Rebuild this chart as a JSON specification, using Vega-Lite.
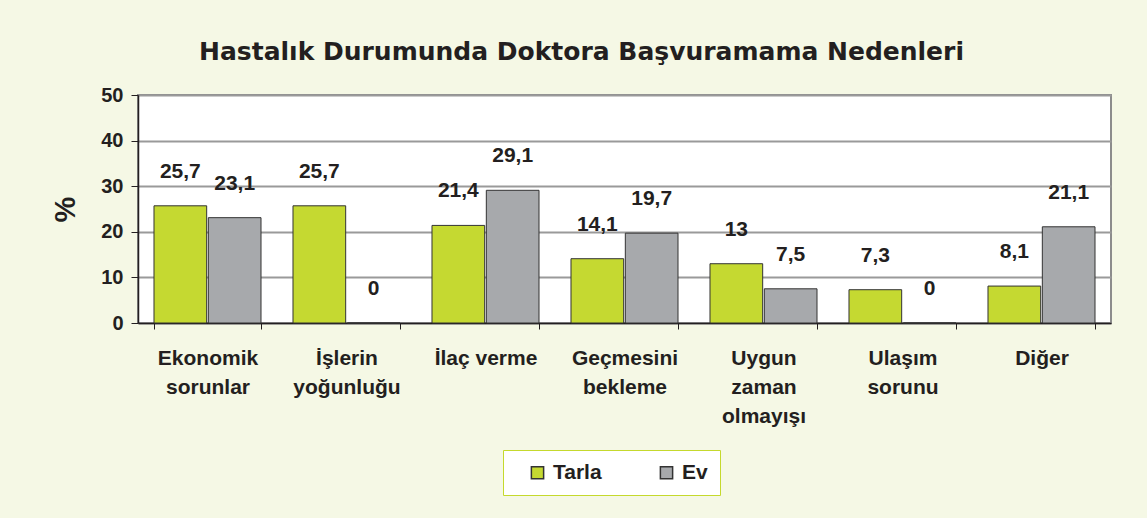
{
  "$schema": "https://vega.github.io/schema/vega-lite/v6.json",
  "width": 973,
  "height": 228,
  "autosize": {"type": "none"},
  "padding": {"left": 138, "top": 95, "right": 36, "bottom": 195},
  "background": "#f5f8e5",
  "config": {
    "locale": {"number": {"decimal": ",", "thousands": ".", "grouping": [3], "currency": ["", " TL"]}},
    "view": {"fill": "white", "stroke": "#8c8c8c", "strokeWidth": 2},
    "font": "Liberation Sans"
  },
  "title": {
    "text": "Hastalık Durumunda Doktora Başvuramama Nedenleri",
    "font": "DejaVu Sans",
    "fontSize": 25,
    "fontWeight": "bold",
    "color": "#231f20",
    "anchor": "middle",
    "dx": -43,
    "offset": 20
  },
  "data": {
    "values": [
      {"neden": "Ekonomik|sorunlar", "grup": "Tarla", "yuzde": 25.7},
      {"neden": "Ekonomik|sorunlar", "grup": "Ev", "yuzde": 23.1},
      {"neden": "İşlerin|yoğunluğu", "grup": "Tarla", "yuzde": 25.7},
      {"neden": "İşlerin|yoğunluğu", "grup": "Ev", "yuzde": 0},
      {"neden": "İlaç verme", "grup": "Tarla", "yuzde": 21.4},
      {"neden": "İlaç verme", "grup": "Ev", "yuzde": 29.1},
      {"neden": "Geçmesini|bekleme", "grup": "Tarla", "yuzde": 14.1},
      {"neden": "Geçmesini|bekleme", "grup": "Ev", "yuzde": 19.7},
      {"neden": "Uygun|zaman|olmayışı", "grup": "Tarla", "yuzde": 13},
      {"neden": "Uygun|zaman|olmayışı", "grup": "Ev", "yuzde": 7.5},
      {"neden": "Ulaşım|sorunu", "grup": "Tarla", "yuzde": 7.3},
      {"neden": "Ulaşım|sorunu", "grup": "Ev", "yuzde": 0},
      {"neden": "Diğer", "grup": "Tarla", "yuzde": 8.1},
      {"neden": "Diğer", "grup": "Ev", "yuzde": 21.1}
    ]
  },
  "encoding": {
    "x": {
      "field": "neden",
      "type": "nominal",
      "sort": null,
      "scale": {"paddingInner": 0.23, "paddingOuter": 0.115},
      "axis": {
        "title": null,
        "labelAngle": 0,
        "labelExpr": "split(datum.label, '|')",
        "labelFont": "Liberation Sans",
        "labelFontSize": 21,
        "labelFontWeight": "bold",
        "labelColor": "#231f20",
        "labelPadding": 18,
        "labelLineHeight": 29,
        "labelBaseline": "top",
        "labelLimit": 0,
        "tickBand": "extent",
        "tickColor": "#231f20",
        "tickSize": 6,
        "domainColor": "#231f20",
        "domainWidth": 1.5,
        "grid": false
      }
    },
    "xOffset": {"field": "grup", "type": "nominal", "sort": ["Tarla", "Ev"], "scale": {"paddingInner": 0.03}},
    "y": {
      "field": "yuzde",
      "type": "quantitative",
      "scale": {"domain": [0, 50], "nice": false},
      "axis": {
        "title": "%",
        "titleFont": "Liberation Sans",
        "titleFontSize": 29,
        "titleFontWeight": "bold",
        "titleColor": "#231f20",
        "titlePadding": 20,
        "values": [0, 10, 20, 30, 40, 50],
        "labelFont": "Liberation Sans",
        "labelFontSize": 20,
        "labelFontWeight": "bold",
        "labelColor": "#231f20",
        "labelPadding": 8,
        "grid": true,
        "gridColor": "#9a9a9a",
        "gridWidth": 2,
        "tickColor": "#231f20",
        "tickSize": 7,
        "domainColor": "#231f20",
        "domainWidth": 1.5
      }
    }
  },
  "layer": [
    {
      "mark": {"type": "bar", "stroke": "#333333", "strokeWidth": 1},
      "encoding": {
        "color": {
          "field": "grup",
          "type": "nominal",
          "sort": ["Tarla", "Ev"],
          "scale": {"domain": ["Tarla", "Ev"], "range": ["#c5d931", "#a7a9ac"]},
          "legend": {
            "title": null,
            "orient": "none",
            "legendX": 365,
            "legendY": 355,
            "direction": "horizontal",
            "fillColor": "white",
            "strokeColor": "#c5d92d",
            "padding": 12,
            "symbolType": "square",
            "symbolSize": 150,
            "symbolOffset": 12,
            "symbolStrokeColor": "#333333",
            "symbolStrokeWidth": 1.5,
            "labelFont": "Liberation Sans",
            "labelFontSize": 21,
            "labelFontWeight": "bold",
            "labelColor": "#231f20",
            "columnPadding": 42,
            "labelOffset": 5
          }
        }
      }
    },
    {
      "mark": {"type": "text", "dy": -34, "font": "Liberation Sans", "fontSize": 21, "fontWeight": "bold", "color": "#231f20"},
      "encoding": {
        "text": {"field": "yuzde", "type": "quantitative", "format": ".1~f"}
      }
    }
  ]
}
